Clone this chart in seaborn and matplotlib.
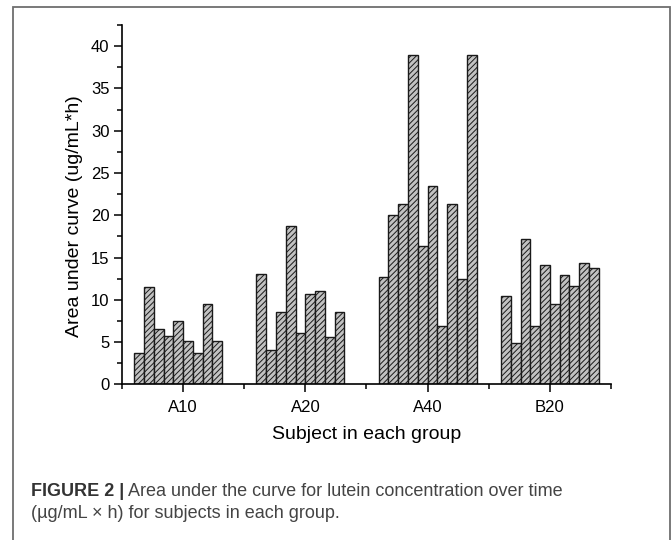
import matplotlib
matplotlib.use("Agg")
import matplotlib.pyplot as plt
from matplotlib.patches import Rectangle
from matplotlib.ticker import MultipleLocator, FixedLocator
import pandas as pd
import seaborn as sns

# Area under curve per subject
GROUPS = ["A10", "A20", "A40", "B20"]
A10 = [3.7, 11.5, 6.5, 5.7, 7.5, 5.1, 3.7, 9.5, 5.1]
A20 = [13.1, 4.1, 8.5, 18.7, 6.1, 10.7, 11.0, 5.6, 8.6]
A40 = [12.7, 20.0, 21.3, 38.9, 16.4, 23.4, 6.9, 21.3, 12.4, 39.0]
B20 = [10.5, 4.9, 17.2, 6.9, 14.1, 9.5, 12.9, 11.6, 14.3, 13.8]
N_SLOTS = 10

YLABEL = "Area under curve (ug/mL*h)"
XLABEL = "Subject in each group"
CAP_BOLD = "FIGURE 2 |"
CAP_LINE1 = " Area under the curve for lutein concentration over time"
CAP_LINE2 = "(\u00b5g/mL \u00d7 h) for subjects in each group."

sns.set_style("ticks")
plt.rcParams["font.family"] = ["Liberation Sans", "DejaVu Sans"]
plt.rcParams["hatch.linewidth"] = 0.7
plt.rcParams["hatch.color"] = "#2a2a2a"
plt.rcParams["text.color"] = "black"
plt.rcParams["axes.labelcolor"] = "black"
plt.rcParams["xtick.color"] = "black"
plt.rcParams["ytick.color"] = "black"


def main():
    rows = []
    for name, vals in zip(GROUPS, [A10, A20, A40, B20]):
        for i, v in enumerate(vals):
            rows.append({"group": name, "subject": i + 1, "auc": v})
    df = pd.DataFrame(rows)

    fig = plt.figure(figsize=(6.72, 5.40), dpi=100)
    ax = fig.add_axes([0.1815, 0.2883, 0.7277, 0.6654])

    sns.barplot(data=df, x="group", y="auc", hue="subject",
                hue_order=list(range(1, N_SLOTS + 1)),
                palette=["#c2c2c2"] * N_SLOTS, saturation=1,
                width=0.8, gap=0, dodge=True, errorbar=None,
                edgecolor="#1a1a1a", linewidth=1.0, legend=False, ax=ax)
    for bar in ax.patches:
        bar.set_hatch("//////")

    ax.set_xlim(-0.5, 3.5)
    ax.set_ylim(0, 42.5)
    ax.yaxis.set_major_locator(MultipleLocator(5))
    ax.yaxis.set_minor_locator(MultipleLocator(2.5))
    ax.xaxis.set_minor_locator(FixedLocator([-0.5, 0.5, 1.5, 2.5, 3.5]))
    ax.tick_params(axis="both", which="major", direction="out", length=6,
                   width=1.1, labelsize=12, color="black",
                   labelcolor="black", pad=3)
    ax.tick_params(axis="both", which="minor", direction="out", length=3.5,
                   width=1.1, color="black")
    ax.tick_params(axis="x", which="major", pad=5)
    sns.despine(ax=ax)
    for side in ["left", "bottom"]:
        ax.spines[side].set_linewidth(1.2)
        ax.spines[side].set_color("black")

    ax.set_xlabel(XLABEL, fontsize=14, labelpad=8, color="black")
    ax.set_ylabel(YLABEL, fontsize=14, labelpad=6, color="black")
    ax.yaxis.label.set_y(0.468)

    # figure frame as in the journal page
    frame = Rectangle((13 / 672, -0.1), 657 / 672, 1.1 - 6.5 / 540,
                      transform=fig.transFigure, fill=False,
                      edgecolor="#6e6e6e", linewidth=1.3)
    fig.patches.append(frame)

    cap_font = ["Liberation Sans Narrow", "Liberation Sans", "DejaVu Sans"]
    y1 = 1 - 492 / 540
    y2 = 1 - 513 / 540
    t = fig.text(31 / 672, y1, CAP_BOLD, fontsize=13, weight="bold",
                 family=cap_font, color="#333333", va="center")
    fig.canvas.draw()
    bb = t.get_window_extent()
    x_rest = bb.x1 / fig.bbox.width
    fig.text(x_rest, y1, CAP_LINE1, fontsize=13, family=cap_font,
             color="#444444", va="center")
    fig.text(31 / 672, y2, CAP_LINE2, fontsize=13, family=cap_font,
             color="#444444", va="center")

    fig.savefig("out.png", dpi=100)
    plt.close(fig)


if __name__ == "__main__":
    main()
